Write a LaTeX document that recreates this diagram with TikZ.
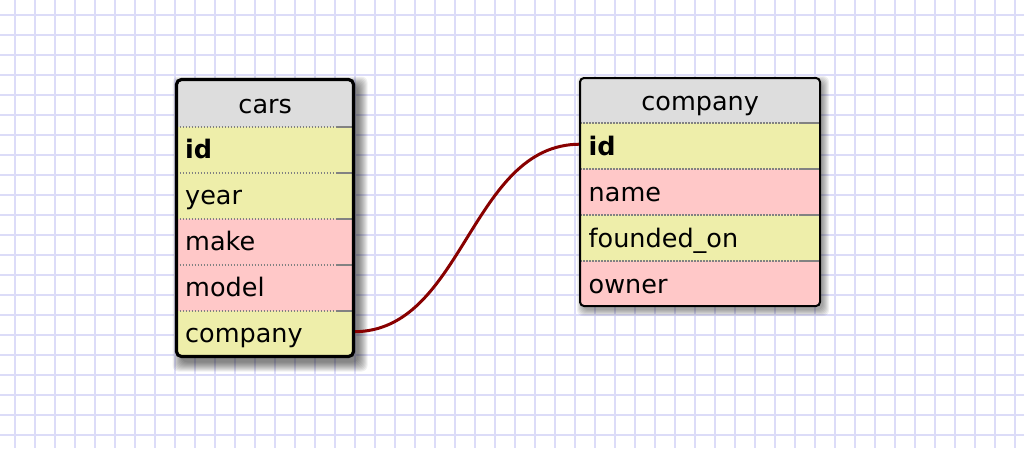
\documentclass[tikz,border=0pt]{standalone}
\usepackage{fontspec}
\setmainfont{DejaVu Sans}
\usetikzlibrary{backgrounds}
\definecolor{gridc}{RGB}{220,220,248}
\definecolor{hdrgray}{RGB}{221,221,221}
\definecolor{rowyel}{RGB}{238,238,170}
\definecolor{rowpink}{RGB}{255,200,200}
\definecolor{sepgray}{RGB}{130,130,130}
\definecolor{connred}{RGB}{136,0,0}
\newcommand{\tabfont}{\fontsize{25.5}{30}\selectfont}
\pgfdeclarelayer{bg}
\pgfdeclarelayer{conn}
\pgfsetlayers{bg,conn,main}
\begin{document}
\begin{tikzpicture}[x=1pt,y=-1pt,
  gridline/.style={draw=gridc,line width=2pt},
  hdrbox/.style={rectangle,anchor=north west,inner xsep=9pt,inner ysep=0pt,fill=hdrgray,align=center,font=\tabfont},
  rowbox/.style={rectangle,anchor=north west,inner xsep=8.5pt,inner ysep=0pt,text height=31.5pt,text depth=14.5pt,align=left,font=\tabfont},
  yel/.style={rowbox,fill=rowyel},
  pink/.style={rowbox,fill=rowpink},
  sepdot/.style={draw=sepgray,line width=1.6pt,dash pattern=on 1.5pt off 1.5pt},
  sepsolid/.style={draw=sepgray,line width=1.6pt},
  conn/.style={draw=connred,line width=3pt},
  shade/.style={fill=black,opacity=0.06,rounded corners=6pt}]
\useasboundingbox (0,0) rectangle (1024,448);
\begin{pgfonlayer}{bg}
\fill[white] (0,0) rectangle (1024,448);
\foreach \x in {15,35,...,1015} \draw[gridline] (\x,0) -- (\x,448);
\foreach \y in {15,35,...,435} \draw[gridline] (0,\y) -- (1024,\y);
\end{pgfonlayer}

% ---------- shadows ----------
\begin{pgfonlayer}{conn}
\foreach \s in {0,1,...,9}
  \fill[shade] (176.5+5-\s,79.5+6-\s) rectangle (353.5+5+\s,356.5+6+\s);
\foreach \s in {0,1,...,6}
  \fill[shade] (580+3-\s,78+4-\s) rectangle (820+3+\s,306+4+\s);
\end{pgfonlayer}

% ---------- cars table ----------
\begin{scope}
\clip[rounded corners=5pt] (176.5,79.5) rectangle (353.5,356.5);
\node[hdrbox,text width=159pt,text height=33.5pt,text depth=14pt] (cars-h) at (176.5,79.5) {cars};
\node[yel,text width=160pt] (cars-id) at (176.5,127) {\textbf{id}};
\node[yel,text width=160pt] (cars-year) at (176.5,173) {year};
\node[pink,text width=160pt] (cars-make) at (176.5,219) {make};
\node[pink,text width=160pt] (cars-model) at (176.5,265) {model};
\node[yel,text width=160pt] (cars-company) at (176.5,311) {company};
\foreach \y in {127,173,219,265,311} {
  \draw[sepdot] (176.5,\y) -- (336,\y);
  \draw[sepsolid] (336,\y) -- (353.5,\y);
}
\end{scope}
\draw[line width=3.2pt,rounded corners=5pt] (176.5,79.5) rectangle (353.5,356.5);

% ---------- company table ----------
\begin{scope}
\clip[rounded corners=4pt] (580,78) rectangle (820,306);
\node[hdrbox,text width=222pt,text height=32pt,text depth=13pt] (comp-h) at (580,78) {company};
\node[yel,text width=223pt,text height=32.5pt,text depth=13.5pt] (comp-id) at (580,123) {\textbf{id}};
\node[pink,text width=223pt,text height=32pt,text depth=14pt] (comp-name) at (580,169) {name};
\node[yel,text width=223pt,text height=32pt,text depth=14pt] (comp-founded) at (580,215) {founded\_on};
\node[pink,text width=223pt,text height=32pt,text depth=14pt] (comp-owner) at (580,261) {owner};
\foreach \y in {123,169,215,261} {
  \draw[sepdot] (580,\y) -- (801,\y);
  \draw[sepsolid] (801,\y) -- (820,\y);
}
\end{scope}
\draw[line width=2pt,rounded corners=4pt] (580,78) rectangle (820,306);

% ---------- connector ----------
\begin{pgfonlayer}{conn}
\draw[conn] ([yshift=2.5pt]cars-company.east) .. controls +(110,0) and +(-110,0) .. ([yshift=2pt]comp-id.west);
\end{pgfonlayer}
\end{tikzpicture}
\end{document}
